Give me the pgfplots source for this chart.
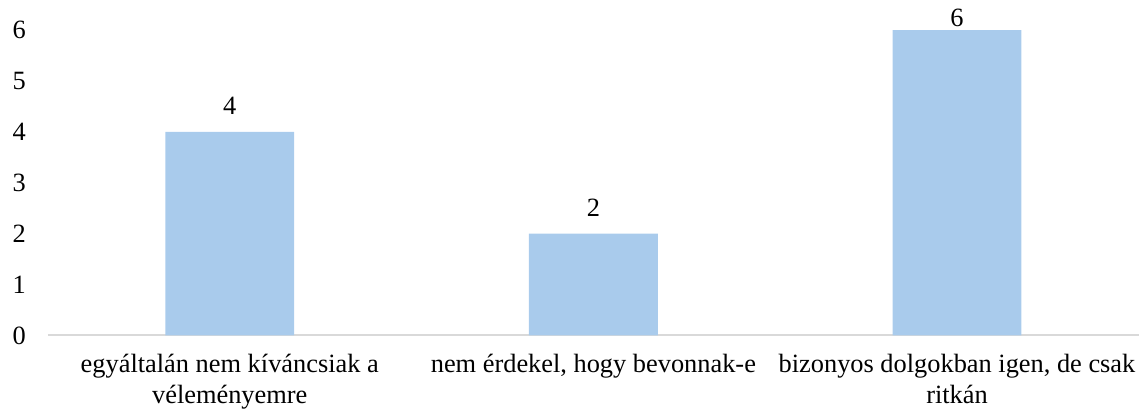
\documentclass[border=0pt]{standalone}
\usepackage{fontspec}
\setmainfont{Liberation Serif}
\usepackage{pgfplots}
\pgfplotsset{compat=1.18}
\definecolor{barblue}{HTML}{A9CBEC}
\definecolor{axgray}{HTML}{D9D9D9}

\begin{document}
\begin{tikzpicture}
\begin{axis}[
  scale only axis,
  width=546pt, height=167.9pt,
  ybar, bar width=64.5pt,
  xmin=-0.5, xmax=2.5,
  ymin=0, ymax=6.59,
  xtick=data,
  xticklabels={{egyáltalán nem kíváncsiak a\\véleményemre},
               {nem érdekel, hogy bevonnak-e},
               {bizonyos dolgokban igen, de csak\\ritkán}},
  ytick={0,1,2,3,4,5,6},
  axis lines*=left,
  y axis line style={draw=none},
  x axis line style={draw=axgray, line width=1pt, -},
  major tick length=0pt,
  /pgf/number format/assume math mode=true,
  tick label style={font=\fontsize{13.2}{15.5}\selectfont},
  xticklabel style={align=center, yshift=-6pt},
  yticklabel style={xshift=-7.5pt},
  nodes near coords,
  visualization depends on={y \as \yv},
  every node near coord/.append style={font=\fontsize{13.2}{15}\selectfont,
    yshift={ifthenelse(\yv>5.5,-2,5)}},
  clip=false,
]
\addplot[fill=barblue, draw=none] coordinates {(0,4) (1,2) (2,6)};
\end{axis}
\path ([xshift=-24pt,yshift=-38.2pt]current axis.south west);
\path ([xshift=1pt]current axis.north east);
\end{tikzpicture}
\end{document}
